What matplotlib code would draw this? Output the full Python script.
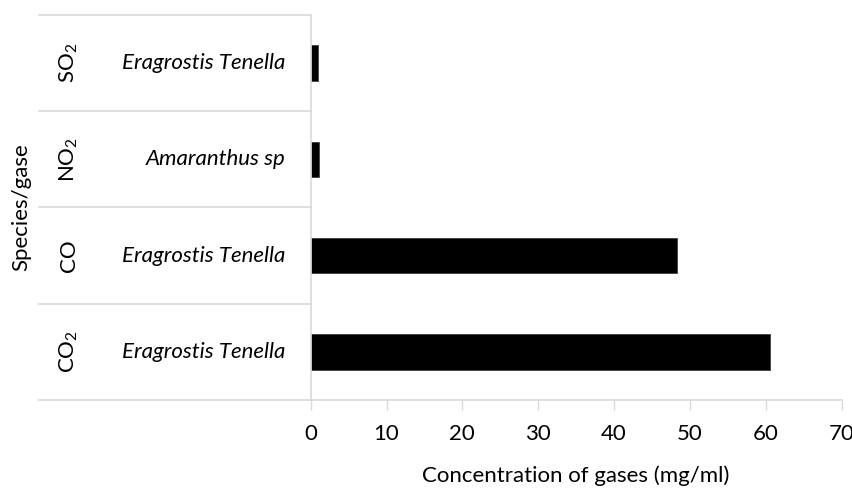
import matplotlib
matplotlib.use("Agg")
import matplotlib.pyplot as plt

# data, bottom to top as in the chart
gases = [r"CO$_2$", "CO", r"NO$_2$", r"SO$_2$"]
species = ["Eragrostis Tenella", "Eragrostis Tenella", "Amaranthus sp", "Eragrostis Tenella"]
values = [60.5, 48.3, 1.05, 1.0]
xticks = [0, 10, 20, 30, 40, 50, 60, 70]

plt.rcParams["font.family"] = ["Lato", "DejaVu Sans"]
plt.rcParams["mathtext.fontset"] = "custom"
plt.rcParams["mathtext.rm"] = "Lato"
plt.rcParams["mathtext.it"] = "Lato:italic"

grey = "#d9d9d9"
fs = 16

fig = plt.figure(figsize=(8.53, 4.97), dpi=100)
ax = fig.add_axes([0.3642, 0.1952, 0.6225, 0.7746])

y = list(range(len(values)))
ax.barh(y, values, height=0.37, color="black", edgecolor="#404040", linewidth=0.6)

ax.set_xlim(0, 70)
ax.set_ylim(-0.5, len(values) - 0.5)
ax.set_xticks(xticks)
ax.tick_params(axis="x", length=7, color=grey, width=1, labelsize=fs, pad=10)
ax.set_yticks([])

for s in ["top", "right"]:
    ax.spines[s].set_visible(False)
for s in ["left", "bottom"]:
    ax.spines[s].set_color(grey)
    ax.spines[s].set_linewidth(1.2)

# multi-level category axis drawn to the left of the plot area
trans = ax.get_yaxis_transform()
left_end = (39 - 310.7) / (0.6225 * 853)
for b in [i - 0.5 for i in range(len(values) + 1)]:
    ax.plot([left_end, 0], [b, b], color=grey, lw=1.2, transform=trans, clip_on=False)

for i, (g, sp) in enumerate(zip(gases, species)):
    ax.text(-0.455, i, g, transform=trans, rotation=90, ha="center", va="center", fontsize=fs)
    ax.text(-0.047, i, sp, transform=trans, ha="right", va="center", fontsize=fs, style="italic")

ax.text(-0.545, 0.5, "Species/gase", transform=ax.transAxes, rotation=90,
        ha="center", va="center", fontsize=fs)
ax.set_xlabel("Concentration of gases (mg/ml)", fontsize=fs, labelpad=16)

fig.savefig("out.png", dpi=100)
